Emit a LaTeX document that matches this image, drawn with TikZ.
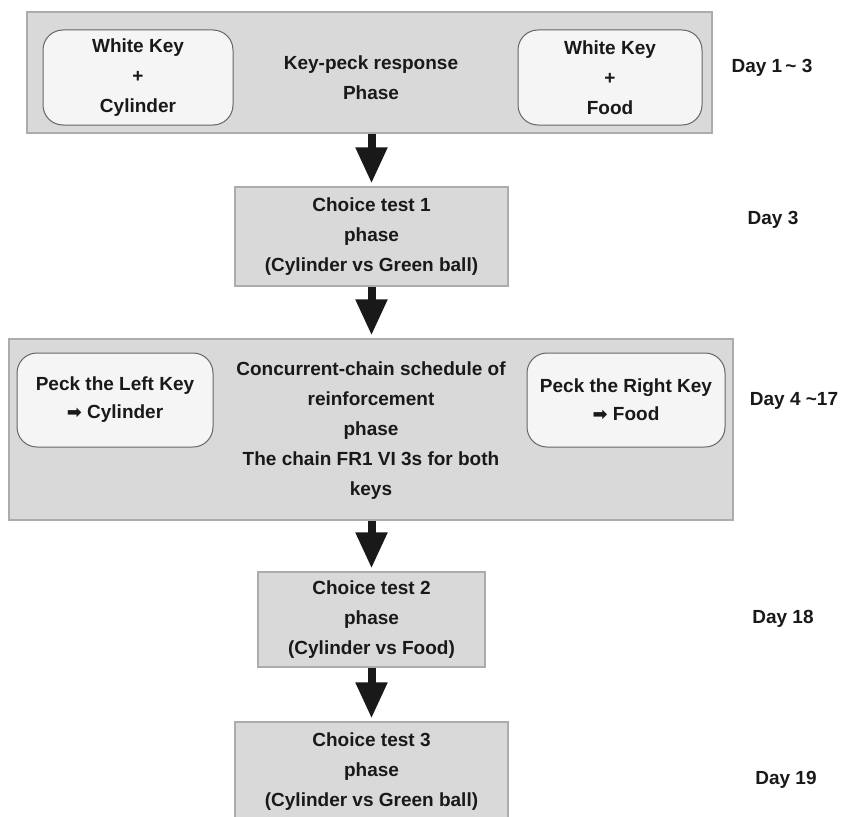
\documentclass[tikz,border=0pt]{standalone}
\usepackage{fontspec}
\setmainfont{Liberation Sans}
\newfontfamily\dejavu{DejaVu Sans}
\usetikzlibrary{arrows.meta}
\tikzset{
  bigbox/.style={draw=gray!65, line width=1.2pt, fill=black!15, inner sep=0pt},
  keybox/.style={draw=black!60, line width=1pt, fill=black!4, rounded corners=20pt, inner sep=0pt, align=center},
  lbl/.style={align=center, font=\bfseries\fontsize{19}{30}\selectfont, text=black!90},
  daylbl/.style={font=\bfseries\fontsize{19}{22}\selectfont, text=black!90},
  bigarrow/.style={line width=8pt, draw=black!90, -{Triangle[width=30pt,length=36pt]}, shorten >=3pt}
}
\begin{document}
\begin{tikzpicture}[x=1pt,y=-1pt]
\useasboundingbox (0,0) rectangle (848,816);
% top phase
\node[bigbox, minimum width=685, minimum height=121] (top) at (369.5,72.5) {};
\node[keybox, lbl, minimum width=190, minimum height=95] (wkc) at (138,77.5) {White Key\\+\\Cylinder};
\node[keybox, lbl, minimum width=184, minimum height=95] (wkf) at (610,77.5) {White Key\\+\\Food};
\node[lbl] (toptxt) at (371,77.5) {Key-peck response\\Phase};
\node[daylbl] (d1) at (772,68) {Day 1\,\textasciitilde\ 3};
% choice test 1
\node[bigbox, lbl, minimum width=273, minimum height=99] (c1) at (371.5,236.5) {Choice test 1\\phase\\(Cylinder vs Green ball)};
\node[daylbl] (d3) at (773,220) {Day 3};
% concurrent chain
\node[bigbox, minimum width=724, minimum height=181] (mid) at (371,429.5) {};
\node[keybox, lbl, minimum width=196, minimum height=94, font=\bfseries\fontsize{19}{28}\selectfont] (plk) at (115,400) {Peck the Left Key\\{\dejavu\fontsize{18}{18}\selectfont ➡} Cylinder};
\node[keybox, lbl, minimum width=198, minimum height=94, font=\bfseries\fontsize{19}{28}\selectfont] (prk) at (626,400) {Peck the Right Key\\{\dejavu\fontsize{18}{18}\selectfont ➡} Food};
\node[lbl] (midtxt) at (371,431) {Concurrent-chain schedule of\\reinforcement\\phase\\The chain FR1 VI 3s for both\\keys};
\node[daylbl] (d4) at (794,401) {Day 4 \textasciitilde17};
% choice test 2
\node[bigbox, lbl, minimum width=227, minimum height=95] (c2) at (371.5,619.5) {Choice test 2\\phase\\(Cylinder vs Food)};
\node[daylbl] (d18) at (783,619) {Day 18};
% choice test 3
\node[bigbox, lbl, minimum width=273, minimum height=99] (c3) at (371.5,771.5) {Choice test 3\\phase\\(Cylinder vs Green ball)};
\node[daylbl] (d19) at (786,780) {Day 19};
% arrows
\draw[bigarrow] (top.south -| c1.north) -- (c1.north);
\draw[bigarrow] (c1.south) -- (c1.south |- mid.north);
\draw[bigarrow] (mid.south -| c2.north) -- (c2.north);
\draw[bigarrow] (c2.south) -- (c3.north);
\end{tikzpicture}
\end{document}
